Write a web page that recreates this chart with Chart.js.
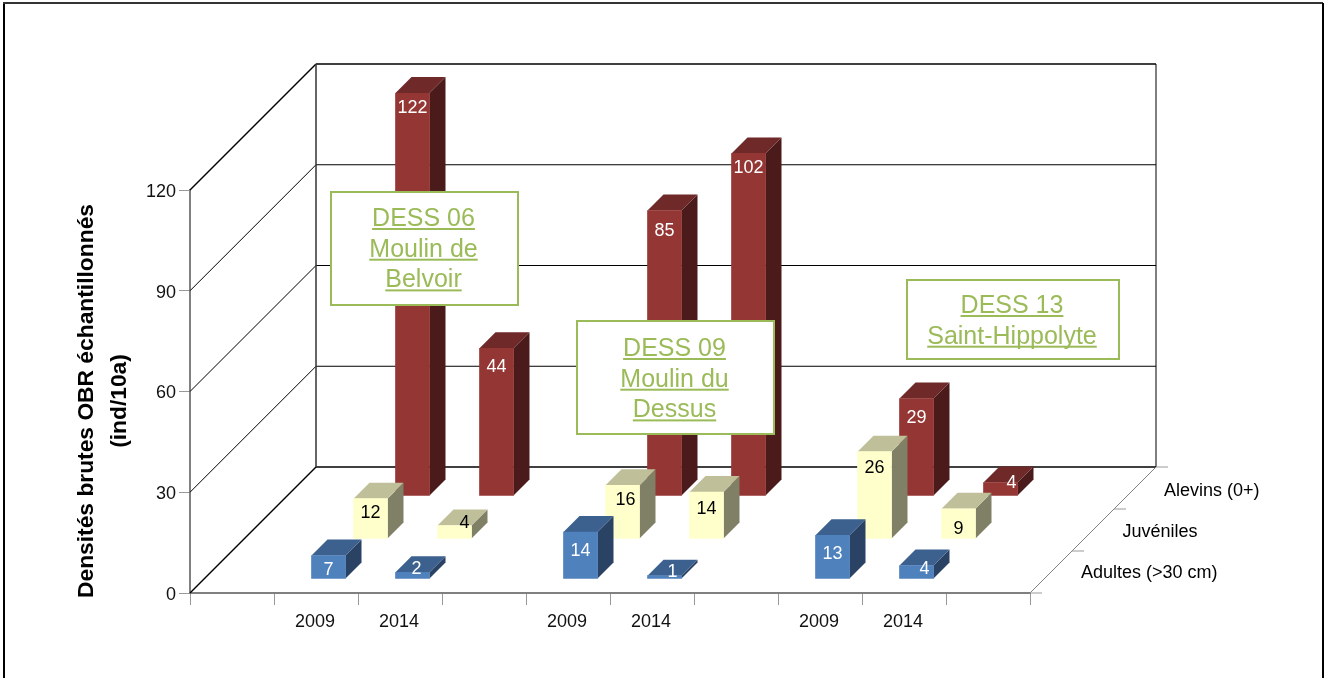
<!DOCTYPE html>
<html>
<head>
<meta charset="utf-8">
<title>Densités brutes OBR</title>
<script src="https://cdn.jsdelivr.net/npm/chart.js@4/dist/chart.umd.min.js"></script>
<style>
  html, body { margin: 0; padding: 0; background: #fff; overflow: hidden; }
  canvas { display: block; }
</style>
</head>
<body>
<canvas id="chart" width="1332" height="678"></canvas>
<script>
// data
var years = ['', '2009', '2014', '', '2009', '2014', '', '2009', '2014', ''];
var adultes = [null, 7, 2, null, 14, 1, null, 13, 4, null];
var juveniles = [null, 12, 4, null, 16, 14, null, 26, 9, null];
var alevins = [null, 122, 44, null, 85, 102, null, 29, 4, null];
var seriesNames = ['Adultes (>30 cm)', 'Juvéniles', 'Alevins (0+)'];
var yTitle = ['Densités brutes OBR échantillonnés', '(ind/10a)'];

var FONT = '"Liberation Sans", Arial, sans-serif';
var GREEN = '#9bbb59';

// colours per series: front, top, side
var faces = [
  {front: '#4f81bd', top: '#3c618f', side: '#2a4364', text: '#fff'},
  {front: '#ffffcc', top: '#bfbf99', side: '#808066', text: '#000'},
  {front: '#943634', top: '#6f2928', side: '#4a1b1a', text: '#fff'}
];

// 3d projection
var rowShift = [{x: 12.5, y: 14}, {x: 54.5, y: 54}, {x: 96.5, y: 97}]; // where each row sits on the floor
var wallDepth = {x: 126, y: 126};
var barDepth = 16;

// label placement per row, by category index: [right of bar centre, below bar top]
var labelNudge = [
  {1: [0, 15], 2: [4, -3], 4: [0, 19], 5: [8, -4], 7: [0, 19], 8: [8, 3]},
  {1: [0, 14], 2: [10, -3], 4: [3, 15], 5: [0, 17], 7: [0, 16], 8: [0, 20]},
  {1: [0, 15], 2: [0, 19], 4: [0, 20], 5: [0, 15], 7: [0, 19], 8: [11, 0]}
];

var boxes = [
  {x: 331, y: 192, w: 187, h: 113, lines: ['DESS 06', 'Moulin de', 'Belvoir'], base: 226},
  {x: 577, y: 321, w: 197, h: 113, lines: ['DESS 09', 'Moulin du', 'Dessus'], base: 356},
  {x: 907, y: 280, w: 212, h: 79, lines: ['DESS 13', 'Saint-Hippolyte'], base: 313}
];

function line(ctx, x1, y1, x2, y2, color, width){
  ctx.strokeStyle = color;
  ctx.lineWidth = width;
  ctx.beginPath();
  ctx.moveTo(x1, y1);
  ctx.lineTo(x2, y2);
  ctx.stroke();
}

function poly(ctx, pts, color){
  ctx.fillStyle = color;
  ctx.beginPath();
  ctx.moveTo(pts[0][0], pts[0][1]);
  for(var i = 1; i < pts.length; i++){
    ctx.lineTo(pts[i][0], pts[i][1]);
  }
  ctx.closePath();
  ctx.fill();
}

var depthPlugin = {
  id: 'depth',

  beforeDatasetsDraw: function(chart){
    var ctx = chart.ctx;
    var a = chart.chartArea;
    var y = chart.scales.y;
    var dx = wallDepth.x, dy = wallDepth.y;
    ctx.save();

    // page frame
    line(ctx, 4, 3, 4, 678, '#000', 2);
    line(ctx, 3, 3, 1323, 3, '#333', 2);
    line(ctx, 1323, 3, 1323, 678, '#000', 2);

    // side wall and back wall, one line per tick
    y.ticks.forEach(function(t){
      var py = y.getPixelForValue(t.value);
      var heavy = t.value == 0 || t.value == y.max;
      line(ctx, a.left, py, a.left + dx, py - dy, '#000', heavy ? 1.4 : 1);
      line(ctx, a.left + dx, py - dy, a.right + dx, py - dy, '#000', heavy ? 1.5 : 1);
    });
    line(ctx, a.left + dx, a.top - dy, a.left + dx, a.bottom - dy, '#333', 1.5);
    line(ctx, a.right + dx, a.top - dy, a.right + dx, a.bottom - dy, '#000', 1);

    // right floor edge with its ticks
    line(ctx, a.right, a.bottom, a.right + dx, a.bottom - dy, '#808080', 1);
    for(var i = 0; i <= seriesNames.length; i++){
      var tx = a.right + dx * i / seriesNames.length;
      var ty = a.bottom - dy * i / seriesNames.length;
      line(ctx, tx, ty, tx + 12, ty, '#999', 1);
    }
    ctx.restore();
  },

  beforeDatasetDraw: function(chart, args){
    var ctx = chart.ctx;
    var shift = rowShift[args.index];
    var f = faces[args.index];
    var top = chart.scales.y.top;
    ctx.save();
    ctx.translate(shift.x, -shift.y);
    args.meta.data.forEach(function(el, i){
      if(chart.data.datasets[args.index].data[i] == null) return;
      var l = el.x - el.width / 2;
      var r = el.x + el.width / 2;
      var t = Math.max(el.y, top); // bars over the axis maximum stop at it
      poly(ctx, [[r, t], [r + barDepth, t - barDepth], [r + barDepth, el.base - barDepth], [r, el.base]], f.side);
      poly(ctx, [[l, t], [l + barDepth, t - barDepth], [r + barDepth, t - barDepth], [r, t]], f.top);
    });
  },

  afterDatasetDraw: function(chart, args){
    var ctx = chart.ctx;
    var f = faces[args.index];
    var values = chart.data.datasets[args.index].data;
    var top = chart.scales.y.top;
    ctx.font = '18px ' + FONT;
    ctx.fillStyle = f.text;
    ctx.textAlign = 'center';
    ctx.textBaseline = 'middle';
    args.meta.data.forEach(function(el, i){
      if(values[i] == null) return;
      var n = labelNudge[args.index][i];
      ctx.fillText(values[i], el.x + n[0], Math.max(el.y, top) + n[1]);
    });
    ctx.restore();
  },

  afterDatasetsDraw: function(chart){
    var ctx = chart.ctx;
    var a = chart.chartArea;
    ctx.save();

    // row names beside the floor
    ctx.font = '18px ' + FONT;
    ctx.fillStyle = '#000';
    ctx.textAlign = 'left';
    ctx.textBaseline = 'alphabetic';
    seriesNames.forEach(function(name, i){
      ctx.fillText(name, a.right + 51 + i * 41.5, a.bottom - 15.5 - i * 41);
    });

    // y title
    ctx.save();
    ctx.translate(0, 401);
    ctx.rotate(-Math.PI / 2);
    ctx.font = 'bold 22.8px ' + FONT;
    ctx.textAlign = 'center';
    ctx.textBaseline = 'middle';
    yTitle.forEach(function(txt, i){
      ctx.fillText(txt, 0, 87 + i * 33);
    });
    ctx.restore();

    // site boxes
    boxes.forEach(function(b){
      ctx.fillStyle = '#fff';
      ctx.fillRect(b.x, b.y, b.w, b.h);
      ctx.strokeStyle = GREEN;
      ctx.lineWidth = 2;
      ctx.strokeRect(b.x, b.y, b.w, b.h);
      ctx.font = '25px ' + FONT;
      ctx.fillStyle = GREEN;
      ctx.textAlign = 'center';
      b.lines.forEach(function(txt, i){
        var mid = b.x + b.w / 2 - 1;
        var base = b.base + i * 30.7;
        var w = ctx.measureText(txt).width;
        ctx.fillText(txt, mid, base);
        ctx.fillRect(mid - w / 2, base + 2, w, 2); // underline
      });
    });
    ctx.restore();
  }
};

function dataset(label, values, i){
  return {
    label: label,
    data: values,
    backgroundColor: faces[i].front,
    barThickness: 34,
    grouped: false
  };
}

new Chart(document.getElementById('chart'), {
  type: 'bar',
  data: {
    labels: years,
    datasets: [
      dataset(seriesNames[0], adultes, 0),
      dataset(seriesNames[1], juveniles, 1),
      dataset(seriesNames[2], alevins, 2)
    ]
  },
  plugins: [depthPlugin],
  options: {
    responsive: false,
    animation: false,
    layout: {padding: {left: 0, top: 190, right: 302, bottom: 0}},
    plugins: {legend: {display: false}, tooltip: {enabled: false}},
    scales: {
      x: {
        afterFit: function(s){ s.height = 85; },
        border: {color: '#808080', width: 2},
        grid: {drawOnChartArea: false, color: '#999', tickLength: 12},
        ticks: {autoSkip: false, maxRotation: 0, padding: 6, labelOffset: -1, color: '#111', font: {family: FONT, size: 18}}
      },
      y: {
        min: 0,
        max: 120,
        afterFit: function(s){ s.width = 190; },
        border: {color: '#808080', width: 2},
        grid: {drawOnChartArea: false, color: '#999', tickLength: 11},
        ticks: {stepSize: 30, padding: 3, labelOffset: 2, color: '#111', font: {family: FONT, size: 18}}
      }
    }
  }
});
</script>
</body>
</html>
